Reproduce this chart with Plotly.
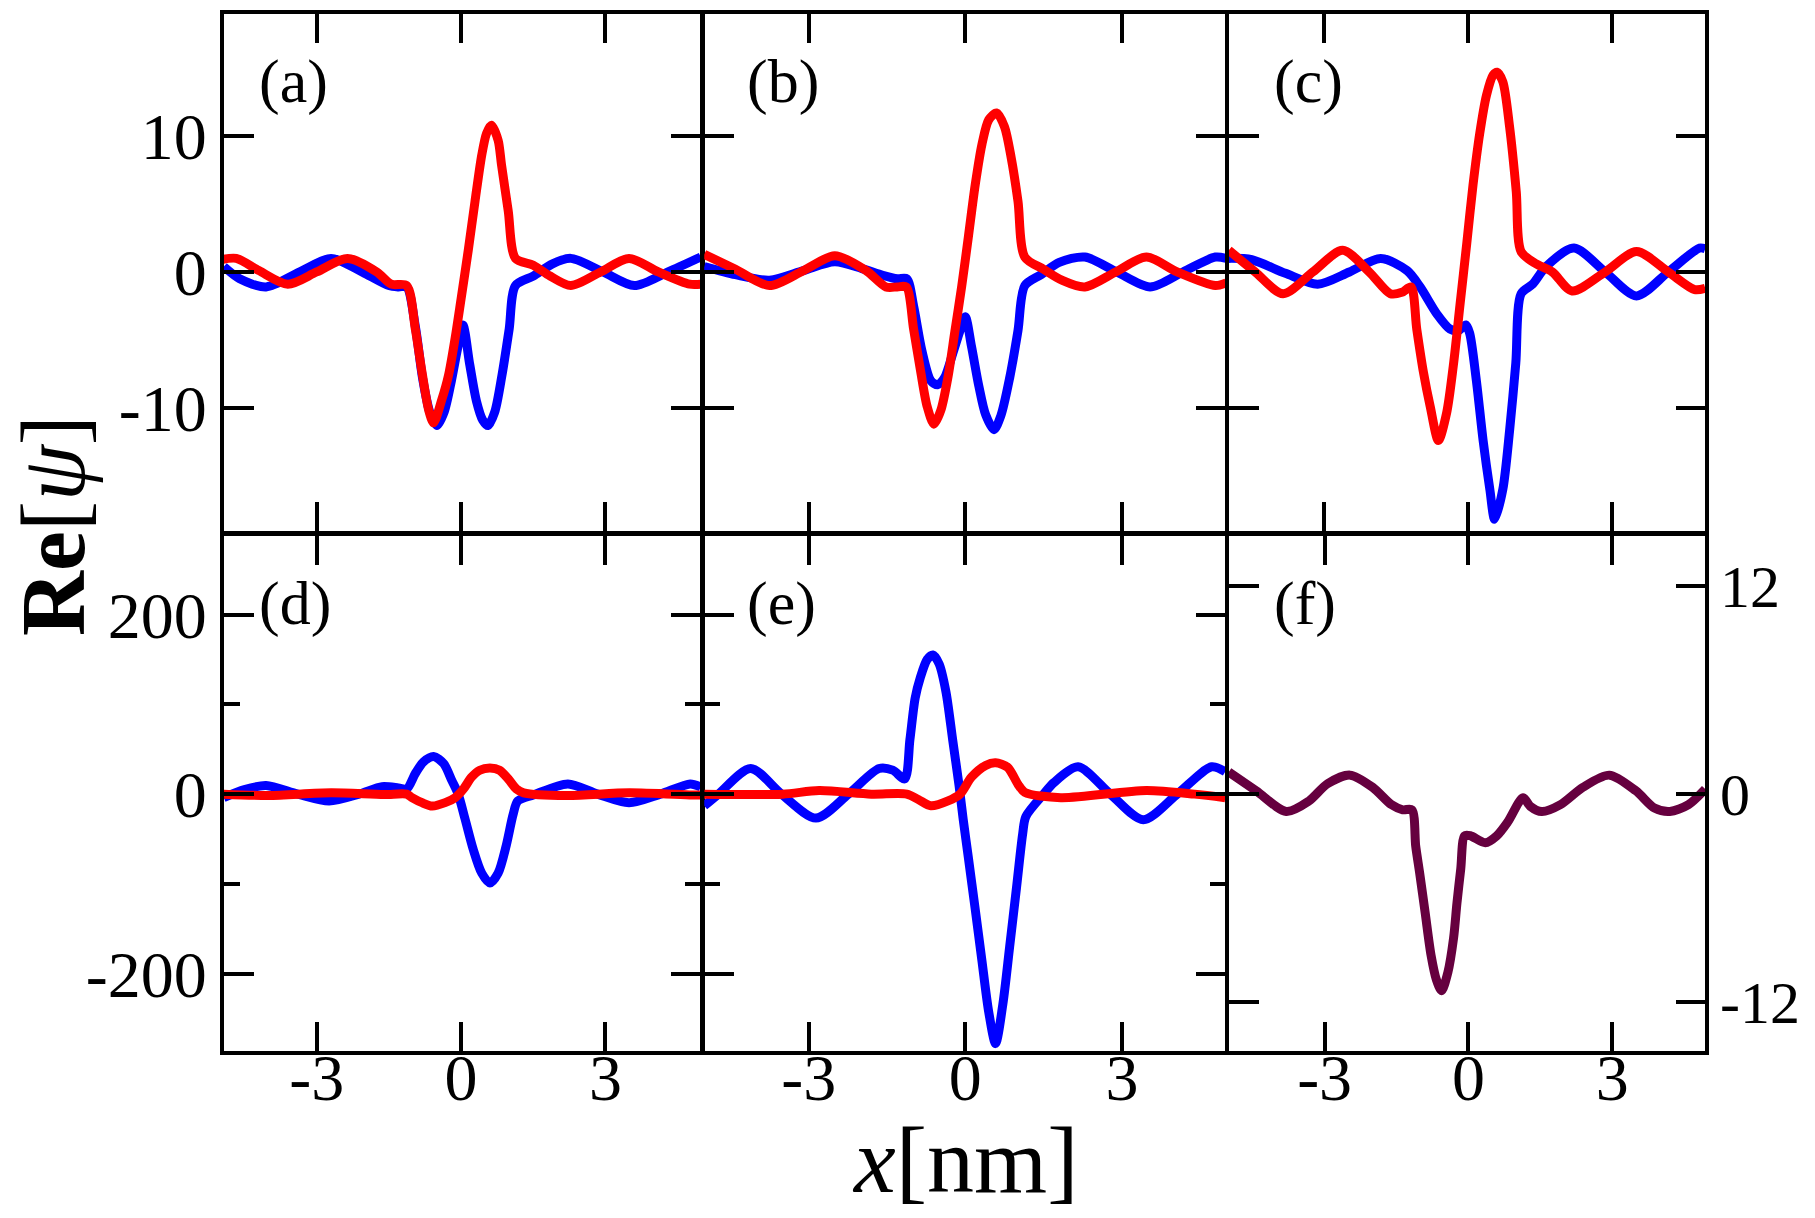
import plotly.graph_objects as go

# ---------------- data ----------------
x_ticks = [-3, 0, 3]
x_tick_text = ["-3", "0", "3"]
y_top_ticks = [-10, 0, 10]
y_top_text = ["-10", "0", "10"]
y_bot_ticks = [-200, 0, 200]
y_bot_text = ["-200", "0", "200"]
y_bot_minor = [-100, 100]
y_f_ticks = [-12, 0, 12]
y_f_text = ["-12", "0", "12"]
panel_labels = ["(a)", "(b)", "(c)", "(d)", "(e)", "(f)"]

a_blue_x = [-4.93, -4.6, -4.05, -3.35, -2.7, -2.0, -1.5, -1.3, -1.13, -0.95, -0.8, -0.65, -0.5, -0.35, -0.2, -0.07,
            0.04, 0.18, 0.32, 0.45, 0.56, 0.7, 0.85, 1.0, 1.13, 1.5, 1.9, 2.28, 2.95, 3.6, 4.3, 4.98]
a_blue_y = [0.4, -0.5, -1.1, 0.0, 1.0, -0.1, -1.0, -1.1, -1.1, -4.0, -7.8, -10.3, -11.3, -10.3, -8.0, -5.6,
            -3.9, -6.8, -9.5, -10.9, -11.3, -10.3, -7.6, -4.2, -1.0, -0.3, 0.6, 1.0, 0.0, -1.0, 0.0, 1.1]
a_red_x = [-4.98, -4.67, -4.2, -3.6, -3.0, -2.36, -1.75, -1.45, -1.13, -0.95, -0.81, -0.67, -0.57, -0.4, -0.26,
           -0.12, 0.0, 0.15, 0.29, 0.43, 0.53, 0.63, 0.77, 0.84, 0.98, 1.13, 1.5, 1.85, 2.28, 2.9, 3.49, 4.1,
           4.75, 4.98]
a_red_y = [0.9, 1.0, 0.1, -0.9, 0.0, 1.0, 0.0, -0.9, -1.0, -4.2, -7.4, -10.2, -11.1, -9.4, -7.6,
           -4.8, -2.0, 1.6, 5.2, 8.6, 10.2, 10.8, 9.7, 7.9, 4.5, 1.0, 0.5, -0.3, -1.0, 0.0, 1.0, 0.0,
           -0.9, -0.9]

b_blue_x = [-5.0, -4.4, -3.75, -3.1, -2.5, -1.98, -1.58, -1.3, -1.12, -0.99, -0.83, -0.66, -0.53, -0.4, -0.24,
            -0.1, 0.0, 0.12, 0.26, 0.39, 0.55, 0.68, 0.85, 1.01, 1.14, 1.45, 1.8, 2.29, 2.9, 3.54, 4.17, 4.79, 5.0]
b_blue_y = [0.4, -0.2, -0.6, 0.1, 0.75, 0.25, -0.25, -0.5, -0.5, -2.5, -5.8, -8.0, -8.3, -7.8, -6.0,
            -4.3, -3.3, -5.5, -8.4, -10.5, -11.6, -10.6, -7.8, -4.3, -1.0, -0.2, 0.7, 1.1, 0.0, -1.1, 0.0, 1.1, 1.0]
b_red_x = [-5.0, -4.4, -3.75, -3.1, -2.5, -1.9, -1.52, -1.3, -1.13, -0.99, -0.86, -0.73, -0.6, -0.47, -0.33,
           -0.2, -0.07, 0.06, 0.19, 0.32, 0.45, 0.6, 0.75, 0.88, 1.01, 1.14, 1.5, 1.85, 2.29, 2.88, 3.47, 4.06,
           4.79, 5.0]
b_red_y = [1.3, 0.2, -1.0, 0.1, 1.2, 0.1, -1.1, -1.1, -1.1, -4.2, -7.2, -9.9, -11.2, -10.2, -7.7,
           -4.4, -1.1, 2.6, 6.4, 9.4, 11.2, 11.7, 10.7, 8.4, 5.2, 1.1, 0.2, -0.6, -1.1, 0.0, 1.1, 0.0,
           -1.0, -0.8]

c_blue_x = [-4.98, -4.5, -3.8, -3.13, -2.47, -1.82, -1.27, -1.0, -0.65, -0.38, -0.2, -0.05, 0.03, 0.17, 0.31,
            0.45, 0.55, 0.72, 0.86, 0.99, 1.1, 1.34, 1.62, 2.2, 2.85, 3.5, 4.16, 4.81, 4.93]
c_blue_y = [1.0, 0.9, -0.1, -0.9, 0.0, 1.0, 0.1, -1.1, -3.1, -4.2, -4.3, -3.9, -4.5, -8.0, -12.4,
            -16.0, -18.2, -16.0, -11.7, -6.7, -1.6, -0.9, 0.4, 1.76, 0.0, -1.76, 0.0, 1.76, 1.7]
c_red_x = [-4.98, -4.43, -3.85, -3.23, -2.61, -2.06, -1.62, -1.38, -1.19, -1.07, -0.93, -0.79, -0.62, -0.45,
           -0.31, -0.17, -0.03, 0.1, 0.24, 0.38, 0.52, 0.6, 0.72, 0.86, 1.0, 1.1, 1.41, 1.75, 2.16, 2.85, 3.5,
           4.16, 4.71, 4.93]
c_red_y = [1.6, 0.0, -1.6, 0.0, 1.6, 0.0, -1.6, -1.5, -1.1, -4.2, -7.4, -9.9, -12.4, -10.4,
           -6.9, -2.4, 2.1, 6.4, 10.2, 13.0, 14.5, 14.7, 14.0, 10.7, 5.9, 1.5, 0.6, 0.0, -1.4, 0.0, 1.5,
           0.0, -1.3, -1.2]

d_blue_x = [-4.93, -4.5, -4.05, -3.39, -2.74, -2.12, -1.64, -1.3, -1.13, -0.95, -0.78, -0.57, -0.36, -0.19,
            -0.06, 0.08, 0.25, 0.43, 0.6, 0.77, 0.94, 1.08, 1.18, 1.5, 2.22, 2.84, 3.49, 4.14, 4.76, 4.98]
d_blue_y = [-3.8, 5.0, 9.5, 0.0, -7.6, 0.0, 8.4, 6.9, 5.7, 23.0, 36.0, 42.0, 34.0, 15.0,
            0.0, -27.0, -61.0, -88.0, -99.0, -88.0, -57.0, -23.0, -7.6, -1.0, 11.4, 0.0, -9.5, 0.0, 11.4, 8.0]
d_red_x = [-4.93, -4.0, -2.7, -1.6, -1.13, -1.02, -0.81, -0.6, -0.33, -0.12, 0.05, 0.22, 0.39, 0.6, 0.8,
           0.98, 1.15, 1.3, 2.2, 3.5, 4.8, 4.98]
d_red_y = [0.0, -1.5, 1.5, -0.5, 0.0, -3.8, -9.5, -13.3, -9.5, -3.8, 5.7, 19.0, 26.7, 29.0, 26.7,
           17.0, 5.7, 1.5, -1.5, 1.5, -1.0, -1.0]

e_blue_x = [-5.0, -4.73, -4.11, -3.52, -2.86, -2.24, -1.65, -1.39, -1.16, -1.06, -0.96, -0.86, -0.73, -0.62,
            -0.5, -0.37, -0.24, -0.12, -0.04, 0.06, 0.19, 0.32, 0.45, 0.58, 0.72, 0.85, 0.98, 1.1, 1.16, 1.5,
            1.7, 2.16, 2.78, 3.41, 4.06, 4.72, 4.98]
e_blue_y = [-13.0, 0.0, 28.6, 0.0, -26.7, 0.0, 28.6, 26.7, 17.0, 61.0, 107.0, 130.0, 150.0, 155.0,
            145.0, 114.0, 60.0, 10.0, -28.0, -71.0, -128.0, -186.0, -243.0, -278.0, -234.0, -170.0, -105.0,
            -44.0, -25.0, 0.0, 13.0, 30.5, 0.0, -28.6, 0.0, 30.5, 25.0]
e_red_x = [-5.0, -3.5, -2.8, -1.8, -1.12, -0.9, -0.66, -0.33, -0.1, 0.12, 0.39, 0.58, 0.81, 1.01, 1.14,
           1.83, 3.47, 4.39, 4.98]
e_red_y = [0.0, 0.0, 4.0, 0.0, 0.0, -6.0, -13.0, -7.6, 0.0, 19.0, 32.0, 35.0, 30.0, 11.0, 2.0,
           -4.0, 4.0, 0.0, -4.0]

f_x = [-5.0, -4.43, -3.8, -3.33, -2.94, -2.47, -2.0, -1.61, -1.37, -1.18, -1.1, -1.02, -0.9, -0.78, -0.67,
       -0.56, -0.43, -0.31, -0.24, -0.16, -0.08, 0.04, 0.35, 0.59, 0.82, 1.14, 1.29, 1.53, 1.92, 2.39, 2.94,
       3.49, 3.88, 4.2, 4.59, 4.94]
f_y = [1.28, 0.2, -1.0, -0.4, 0.6, 1.1, 0.4, -0.6, -0.9, -0.9, -3.0, -4.5, -6.9, -9.3, -10.7,
       -11.35, -10.3, -8.3, -6.3, -4.3, -2.4, -2.4, -2.8, -2.4, -1.6, -0.2, -0.7, -1.0, -0.6, 0.4, 1.1,
       0.2, -0.8, -1.0, -0.6, 0.3]

# ---------------- layout geometry ----------------
W, H = 1815, 1218
ML, MR, MT, MB = 222, 108, 10, 165
PW, PH = W - ML - MR, H - MT - MB
LWA = 3.5                       # axis / tick line width
col_lines = [222, 702.5, 1227, 1707]
row_lines = [10, 532.3, 1053]

BLUE, RED, PURPLE = "#0000ff", "#ff0000", "#66003f"
FONT = "Liberation Serif, Times New Roman, Times, serif"
LW = 9


def xdom(i):
    return [(col_lines[i] + LWA / 2 - ML) / PW, (col_lines[i + 1] - LWA / 2 - ML) / PW]


def ydom(j):
    return [(H - MB - (row_lines[j + 1] - LWA / 2)) / PH, (H - MB - (row_lines[j] + LWA / 2)) / PH]


def px(X, Y):
    return (X - ML) / PW, (H - MB - Y) / PH


fig = go.Figure()

series = [
    (a_blue_x, a_blue_y, BLUE, 1), (a_red_x, a_red_y, RED, 1),
    (b_blue_x, b_blue_y, BLUE, 2), (b_red_x, b_red_y, RED, 2),
    (c_blue_x, c_blue_y, BLUE, 3), (c_red_x, c_red_y, RED, 3),
    (d_blue_x, d_blue_y, BLUE, 4), (d_red_x, d_red_y, RED, 4),
    (e_blue_x, e_blue_y, BLUE, 5), (e_red_x, e_red_y, RED, 5),
    (f_x, f_y, PURPLE, 6),
]
for xs, ys, col, k in series:
    sfx = "" if k == 1 else str(k)
    fig.add_trace(go.Scatter(x=xs, y=ys, mode="lines",
                             line=dict(color=col, width=LW, shape="spline", smoothing=0.8),
                             xaxis="x" + sfx, yaxis="y" + sfx, showlegend=False, hoverinfo="skip"))

tickfont = dict(family=FONT, size=66, color="black")
common = dict(ticks="inside", ticklen=30, tickwidth=LWA, tickcolor="black", showline=True,
              linewidth=LWA, linecolor="black", mirror="ticks", showgrid=False, zeroline=False)

x_ranges = [[-4.93, 4.98], [-5.0, 4.98], [-4.98, 4.93], [-4.93, 4.98], [-5.0, 4.98], [-5.0, 4.94]]
layout = {}
for k in range(1, 7):
    col = (k - 1) % 3
    row = 0 if k <= 3 else 1
    sfx = "" if k == 1 else str(k)
    layout["xaxis" + sfx] = dict(domain=xdom(col), range=x_ranges[k - 1], anchor="y" + sfx,
                                 tickmode="array", tickvals=x_ticks, ticktext=x_tick_text,
                                 showticklabels=(row == 1), tickfont=tickfont,
                                 ticklabelstandoff=-34, **common)
    yd = dict(domain=ydom(row), anchor="x" + sfx, tickmode="array", tickfont=tickfont,
              ticklabelstandoff=0, **common)
    if row == 0:
        yd.update(range=[-19.1, 19.0], tickvals=y_top_ticks, ticktext=y_top_text,
                  showticklabels=(col == 0))
    elif k in (4, 5):
        yd.update(range=[-286.5, 288.7], tickvals=y_bot_ticks, ticktext=y_bot_text,
                  showticklabels=(col == 0),
                  minor=dict(tickmode="array", tickvals=y_bot_minor, ticks="inside", ticklen=16,
                             tickwidth=LWA, tickcolor="black", showgrid=False))
    else:
        yd.update(range=[-14.84, 14.96], tickvals=y_f_ticks, ticktext=y_f_text, side="right",
                  showticklabels=True, ticklabelstandoff=-1,
                  tickfont=dict(family=FONT, size=60, color="black"))
    layout["yaxis" + sfx] = yd

annotations = []
label_px = [(257, 80), (745, 80), (1272, 80), (257, 603), (745, 603), (1272, 603)]
for lab, (X, Y) in zip(panel_labels, label_px):
    xp, yp = px(X, Y)
    annotations.append(dict(text=lab, x=xp, y=yp, xref="paper", yref="paper", xanchor="left",
                            yanchor="middle", showarrow=False,
                            font=dict(family=FONT, size=62, color="black")))
xp, yp = px(53, 525)
annotations.append(dict(text="<b>Re</b>[<i>ψ</i>]", x=xp, y=yp, xref="paper", yref="paper",
                        xanchor="center", yanchor="middle", textangle=-90, showarrow=False,
                        font=dict(family=FONT, size=90, color="black")))
xp, yp = px(965, 1160)
annotations.append(dict(text="<i>x</i>[nm]", x=xp, y=yp, xref="paper", yref="paper",
                        xanchor="center", yanchor="middle", showarrow=False,
                        font=dict(family=FONT, size=94, color="black")))

fig.update_layout(width=W, height=H, autosize=False,
                  margin=dict(l=ML, r=MR, t=MT, b=MB, pad=0),
                  paper_bgcolor="white", plot_bgcolor="white",
                  annotations=annotations, **layout)

fig.write_html("out.html", config={"displayModeBar": False},
               post_script="document.body.style.margin='0px';")
